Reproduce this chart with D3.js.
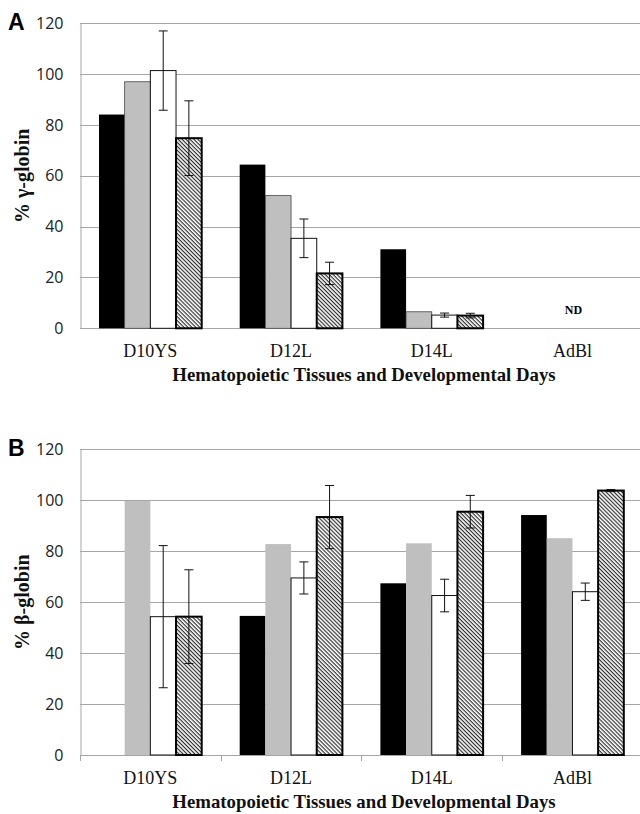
<!DOCTYPE html>
<html>
<head>
<meta charset="utf-8">
<script src="https://cdn.jsdelivr.net/npm/d3@7"></script>
<style>
  body { margin: 0; background: #fff; }
  svg { display: block; }
</style>
</head>
<body>
<div id="chart"></div>
<script>
// categories and series
var categories = ["D10YS", "D12L", "D14L", "AdBl"];
var seriesNames = ["black", "grey", "white", "hatched"];
var yTicks = [0, 20, 40, 60, 80, 100, 120];

// panel A: % gamma-globin (null = not detected)
var gammaBlack   = [84.1, 64.4, 31.1, null];
var gammaGrey    = [97.0, 52.2, 6.5, null];
var gammaWhite   = [101.4, 35.4, 5.2, null];
var gammaHatched = [74.8, 21.6, 5.0, null];
var gammaWhiteErr   = [15.6, 7.6, 0.8, null];
var gammaHatchedErr = [14.7, 4.4, 0.9, null];

// panel B: % beta-globin
var betaBlack   = [0, 54.6, 67.4, 94.2];
var betaGrey    = [99.7, 82.8, 83.1, 85.1];
var betaWhite   = [54.3, 69.5, 62.6, 64.1];
var betaHatched = [54.3, 93.4, 95.5, 103.8];
var betaWhiteErr   = [27.9, 6.3, 6.4, 3.4];
var betaHatchedErr = [18.4, 12.4, 6.4, 0.4];

var width = 640, height = 814;

var svg = d3.select("#chart")
    .append("svg")
    .attr("width", width)
    .attr("height", height);

// hatch pattern for the 4th series
var defs = svg.append("defs");
var pat = defs.append("pattern")
    .attr("id", "hatch")
    .attr("patternUnits", "userSpaceOnUse")
    .attr("width", 2.8)
    .attr("height", 2.8)
    .attr("patternTransform", "rotate(45)");
pat.append("rect").attr("width", 2.8).attr("height", 2.8).attr("fill", "#fff");
pat.append("line")
    .attr("x1", 0).attr("y1", 0.6).attr("x2", 2.8).attr("y2", 0.6)
    .attr("stroke", "#222").attr("stroke-width", 1.1);

function drawPanel(opts) {
    var g = svg.append("g");

    var x = d3.scaleBand()
        .domain(categories)
        .range([80, 80 + 140.7 * categories.length])
        .paddingInner(0.27)
        .paddingOuter(0.135);

    var xs = d3.scaleBand()
        .domain(seriesNames)
        .range([0, x.bandwidth()]);

    var y = d3.scaleLinear()
        .domain([0, 120])
        .range([opts.bottom, opts.top]);

    // gridlines
    g.append("g")
        .selectAll("line")
        .data(yTicks)
        .enter()
        .append("line")
        .attr("x1", 80)
        .attr("x2", width)
        .attr("y1", d => Math.round(y(d)) + 0.5)
        .attr("y2", d => Math.round(y(d)) + 0.5)
        .attr("stroke", "#a6a6a6")
        .attr("stroke-width", 1);

    // y axis
    var yAxis = g.append("g")
        .attr("transform", "translate(80.5,0)")
        .call(d3.axisLeft(y).tickValues(yTicks).tickSize(0).tickPadding(17));
    yAxis.select(".domain").attr("stroke", "#a6a6a6");
    yAxis.selectAll("text")
        .attr("font-family", "'Open Sans', sans-serif")
        .attr("font-size", "16px")
        .attr("fill", "#222");

    // x axis (category labels)
    var xAxis = g.append("g")
        .attr("transform", "translate(0," + (Math.round(y(0)) + 0.5) + ")")
        .call(d3.axisBottom(x).tickSize(0).tickPadding(16));
    xAxis.select(".domain").remove();
    xAxis.selectAll("text")
        .attr("font-family", "'Liberation Serif', 'Times New Roman', serif")
        .attr("font-size", "18px")
        .attr("fill", "#111");

    if (opts.ticks) {
        g.append("g")
            .selectAll("line")
            .data(d3.range(categories.length + 1))
            .enter()
            .append("line")
            .attr("x1", d => Math.round(80 + x.step() * d) + 0.5)
            .attr("x2", d => Math.round(80 + x.step() * d) + 0.5)
            .attr("y1", y(0))
            .attr("y2", y(0) + 6)
            .attr("stroke", "#a6a6a6");
    }

    var rows = [];
    categories.forEach(function(c, i) {
        opts.series.forEach(function(s, j) {
            if (s.values[i] === null) return;
            rows.push({ cat: c, key: seriesNames[j], value: s.values[i], err: s.err ? s.err[i] : null, style: s.style });
        });
    });

    g.append("g")
        .selectAll("rect")
        .data(rows)
        .enter()
        .append("rect")
        .attr("x", d => x(d.cat) + xs(d.key))
        .attr("y", d => y(d.value))
        .attr("width", xs.bandwidth())
        .attr("height", d => y(0) - y(d.value))
        .attr("fill", d => d.style.fill)
        .attr("stroke", d => d.style.stroke)
        .attr("stroke-width", d => d.style.sw);

    // error bars
    var errs = rows.filter(d => d.err !== null);
    var eg = g.append("g")
        .attr("stroke", "#111")
        .attr("stroke-width", 1);
    errs.forEach(function(d) {
        var cx = x(d.cat) + xs(d.key) + xs.bandwidth() / 2;
        var y1 = y(d.value + d.err), y2 = y(d.value - d.err);
        eg.append("line").attr("x1", cx).attr("x2", cx).attr("y1", y1).attr("y2", y2);
        eg.append("line").attr("x1", cx - 4.5).attr("x2", cx + 4.5).attr("y1", y1).attr("y2", y1);
        eg.append("line").attr("x1", cx - 4.5).attr("x2", cx + 4.5).attr("y1", y2).attr("y2", y2);
    });

    // y axis title
    g.append("text")
        .attr("transform", "translate(29," + (opts.top + opts.bottom) / 2 + ") rotate(-90)")
        .attr("text-anchor", "middle")
        .attr("font-family", "'Liberation Serif', 'Times New Roman', serif")
        .attr("font-weight", "bold")
        .attr("font-size", "20px")
        .attr("fill", "#111")
        .text(opts.yTitle);

    // x axis title
    g.append("text")
        .attr("x", 364)
        .attr("y", opts.bottom + 53)
        .attr("text-anchor", "middle")
        .attr("font-family", "'Liberation Serif', 'Times New Roman', serif")
        .attr("font-weight", "bold")
        .attr("font-size", "18.8px")
        .attr("fill", "#111")
        .text("Hematopoietic Tissues and Developmental Days");

    // panel letter
    g.append("text")
        .attr("x", 8)
        .attr("y", opts.top + 7)
        .attr("font-family", "'Liberation Sans', Arial, sans-serif")
        .attr("font-weight", "bold")
        .attr("font-size", "23px")
        .attr("fill", "#000")
        .text(opts.letter);

    return { g: g, x: x, y: y };
}

var blackStyle = { fill: "#000", stroke: "none", sw: 0 };
var greyStyleA = { fill: "#bfbfbf", stroke: "#444", sw: 0.8 };
var greyStyleB = { fill: "#bfbfbf", stroke: "none", sw: 0 };
var whiteStyle = { fill: "#fff", stroke: "#111", sw: 1 };
var hatchStyle = { fill: "url(#hatch)", stroke: "#000", sw: 2 };

var pA = drawPanel({
    top: 23.3, bottom: 328.3, letter: "A", yTitle: "% γ-globin", ticks: false,
    series: [
        { values: gammaBlack, style: blackStyle },
        { values: gammaGrey, style: greyStyleA },
        { values: gammaWhite, err: gammaWhiteErr, style: whiteStyle },
        { values: gammaHatched, err: gammaHatchedErr, style: hatchStyle }
    ]
});

// not detected marker for AdBl
pA.g.append("text")
    .attr("x", pA.x("AdBl") + pA.x.bandwidth() / 2 + 1)
    .attr("y", pA.y(5.5))
    .attr("text-anchor", "middle")
    .attr("font-family", "'Liberation Serif', 'Times New Roman', serif")
    .attr("font-weight", "bold")
    .attr("font-size", "12px")
    .text("ND");

drawPanel({
    top: 449.3, bottom: 755, letter: "B", yTitle: "% β-globin", ticks: true,
    series: [
        { values: betaBlack, style: blackStyle },
        { values: betaGrey, style: greyStyleB },
        { values: betaWhite, err: betaWhiteErr, style: whiteStyle },
        { values: betaHatched, err: betaHatchedErr, style: hatchStyle }
    ]
});
</script>
</body>
</html>
